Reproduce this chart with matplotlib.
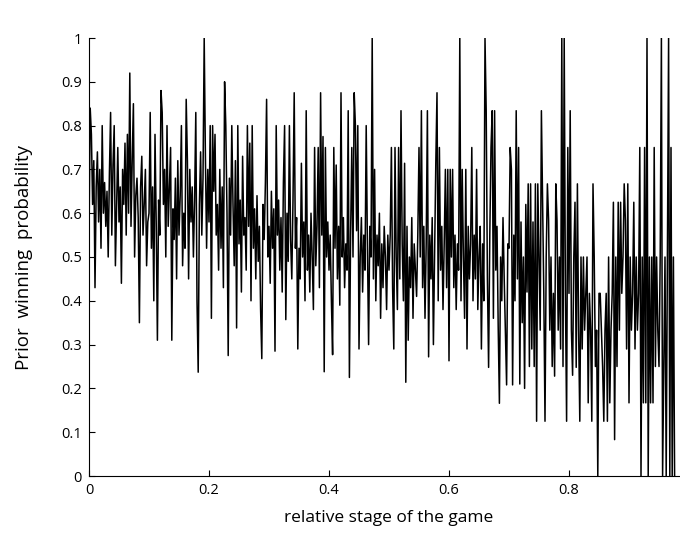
import numpy as np
import matplotlib
matplotlib.use("Agg")
import matplotlib.pyplot as plt

# Prior winning probability (step 0.002 in relative stage)
seg00 = [0.54, 0.84, 0.78, 0.62, 0.72, 0.43, 0.66, 0.74, 0.58, 0.70, 0.52, 0.80, 0.60, 0.67, 0.57, 0.65, 0.50, 0.69, 0.83, 0.55, 0.71, 0.80, 0.48, 0.62, 0.75]
seg01 = [0.58, 0.66, 0.44, 0.70, 0.62, 0.76, 0.55, 0.78, 0.60, 0.92, 0.57, 0.72, 0.85, 0.50, 0.64, 0.68, 0.59, 0.35, 0.66, 0.73, 0.55, 0.62, 0.70, 0.48, 0.58]
seg02 = [0.60, 0.83, 0.52, 0.66, 0.40, 0.78, 0.58, 0.31, 0.63, 0.55, 0.88, 0.83, 0.62, 0.70, 0.50, 0.80, 0.57, 0.66, 0.75, 0.31, 0.61, 0.54, 0.68, 0.45, 0.72]
seg03 = [0.55, 0.64, 0.80, 0.48, 0.60, 0.52, 0.86, 0.72, 0.45, 0.70, 0.58, 0.66, 0.50, 0.63, 0.83, 0.40, 0.237, 0.62, 0.74, 0.55, 0.68, 1.0, 0.73, 0.52, 0.70]
seg04 = [0.58, 0.80, 0.36, 0.80, 0.65, 0.78, 0.55, 0.62, 0.47, 0.70, 0.52, 0.66, 0.43, 0.90, 0.80, 0.60, 0.275, 0.68, 0.55, 0.80, 0.62, 0.48, 0.72, 0.338, 0.80]
seg05 = [0.53, 0.63, 0.42, 0.73, 0.55, 0.59, 0.47, 0.80, 0.57, 0.76, 0.40, 0.80, 0.52, 0.61, 0.45, 0.64, 0.49, 0.57, 0.38, 0.268, 0.62, 0.54, 0.67, 0.86, 0.50]
seg06 = [0.57, 0.44, 0.65, 0.52, 0.61, 0.285, 0.80, 0.55, 0.63, 0.47, 0.59, 0.42, 0.67, 0.80, 0.357, 0.60, 0.49, 0.80, 0.54, 0.45, 0.63, 0.875, 0.52, 0.59, 0.29]
seg07 = [0.52, 0.45, 0.714, 0.50, 0.58, 0.40, 0.834, 0.47, 0.55, 0.42, 0.60, 0.50, 0.38, 0.75, 0.48, 0.57, 0.75, 0.43, 0.875, 0.55, 0.775, 0.238, 0.75, 0.50, 0.58]
seg08 = [0.47, 0.55, 0.40, 0.277, 0.75, 0.52, 0.71, 0.45, 0.57, 0.39, 0.875, 0.50, 0.59, 0.43, 0.53, 0.47, 0.834, 0.225, 0.55, 0.75, 0.50, 0.875, 0.80, 0.56, 0.80]
seg09 = [0.29, 0.50, 0.59, 0.42, 0.55, 0.47, 0.80, 0.53, 0.30, 0.57, 0.50, 1.0, 0.45, 0.70, 0.40, 0.55, 0.48, 0.60, 0.36, 0.53, 0.43, 0.57, 0.50, 0.38, 0.55]
seg10 = [0.47, 0.55, 0.75, 0.43, 0.29, 0.75, 0.50, 0.38, 0.75, 0.45, 0.834, 0.53, 0.40, 0.714, 0.214, 0.57, 0.31, 0.50, 0.43, 0.59, 0.36, 0.53, 0.47, 0.41, 0.55]
seg11 = [0.75, 0.50, 0.834, 0.43, 0.57, 0.36, 0.53, 0.834, 0.272, 0.55, 0.45, 0.59, 0.30, 0.50, 0.714, 0.875, 0.40, 0.75, 0.47, 0.57, 0.38, 0.53, 0.70, 0.43, 0.70]
seg12 = [0.263, 0.70, 0.50, 0.70, 0.43, 0.55, 0.38, 0.53, 0.47, 1.0, 0.40, 0.70, 0.50, 0.36, 0.70, 0.29, 0.57, 0.45, 0.53, 0.75, 0.40, 0.55, 0.45, 0.70, 0.38]
seg13 = [0.50, 0.57, 0.29, 0.53, 0.40, 1.0, 0.834, 0.45, 0.248, 0.55, 0.75, 0.834, 0.36, 0.834, 0.47, 0.57, 0.34, 0.166, 0.50, 0.40, 0.59, 0.45, 0.33, 0.208, 0.53]
seg14 = [0.52, 0.75, 0.70, 0.208, 0.55, 0.40, 0.834, 0.45, 0.75, 0.21, 0.58, 0.35, 0.50, 0.20, 0.62, 0.42, 0.667, 0.25, 0.667, 0.29, 0.58, 0.25, 0.667, 0.125, 0.667]
seg15 = [0.50, 0.333, 0.834, 0.625, 0.417, 0.125, 0.50, 0.667, 0.583, 0.333, 0.50, 0.25, 0.417, 0.228, 0.667, 0.583, 0.333, 0.50, 0.29, 1.0, 0.25, 1.0, 0.417, 0.125, 0.75]
seg16 = [0.417, 0.834, 0.333, 0.23, 0.50, 0.625, 0.248, 0.667, 0.333, 0.125, 0.50, 0.29, 0.50, 0.333, 0.417, 0.50, 0.167, 0.417, 0.333, 0.125, 0.667, 0.50, 0.25, 0.333, 0.0]
seg17 = [0.417, 0.417, 0.333, 0.25, 0.125, 0.333, 0.417, 0.125, 0.50, 0.167, 0.333, 0.417, 0.625, 0.083, 0.50, 0.25, 0.625, 0.333, 0.625, 0.417, 0.50, 0.667, 0.583, 0.29, 0.667]
seg18 = [0.167, 0.50, 0.333, 0.417, 0.625, 0.29, 0.50, 0.333, 0.417, 0.75, 0.0, 0.50, 0.167, 0.75, 0.167, 1.0, 0.0, 0.50, 0.167, 0.50, 0.167, 0.75, 0.25, 0.50, 0.333]
seg19 = [0.25, 0.50, 1.0, 0.0, 0.25, 0.50, 0.0, 0.50, 1.0, 0.0, 0.75, 0.0, 0.50, 0.0]

prob = (seg00 + seg01 + seg02 + seg03 + seg04 + seg05 + seg06 + seg07 + seg08 + seg09 +
        seg10 + seg11 + seg12 + seg13 + seg14 + seg15 + seg16 + seg17 + seg18 + seg19)
x_step = 0.002
stage = [i * x_step for i in range(len(prob))]

x_ticks = [0, 0.2, 0.4, 0.6, 0.8, 1]
x_ticklabels = ["0", "0.2", "0.4", "0.6", "0.8", "1"]
y_ticks = [0, 0.1, 0.2, 0.3, 0.4, 0.5, 0.6, 0.7, 0.8, 0.9, 1]
y_ticklabels = ["0", "0.1", "0.2", "0.3", "0.4", "0.5", "0.6", "0.7", "0.8", "0.9", "1"]

plt.rcParams['font.family'] = ['Open Sans', 'DejaVu Sans']

fig = plt.figure(figsize=(6.8, 5.44), dpi=100)
ax = fig.add_axes([89 / 680, 68 / 544, 600 / 680, 438 / 544])
ax.plot(stage, prob, color='black', linewidth=1.1)

ax.set_xlim(0, 1)
ax.set_ylim(0, 1)
ax.set_xticks(x_ticks)
ax.set_xticklabels(x_ticklabels)
ax.set_yticks(y_ticks)
ax.set_yticklabels(y_ticklabels)
ax.tick_params(direction='in', length=4, width=0.8, labelsize=10.5, pad=5)
for s in ['top', 'right']:
    ax.spines[s].set_visible(False)
for s in ['left', 'bottom']:
    ax.spines[s].set_linewidth(0.8)

ax.set_xlabel("relative stage of the game", fontsize=12.5, labelpad=9)
ax.set_ylabel("Prior  winning  probability", fontsize=13.5, labelpad=20)

fig.savefig("out.png", dpi=100)
